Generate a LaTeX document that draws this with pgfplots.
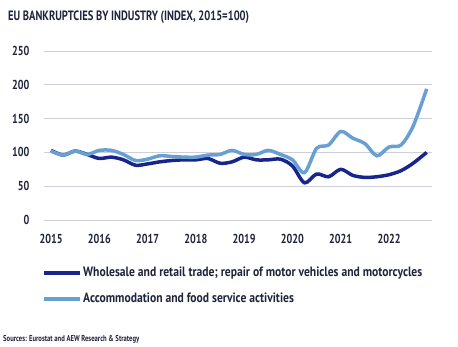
\documentclass[border=0pt]{standalone}
\usepackage{fontspec}
\setmainfont{PT Sans}[FakeStretch=0.78]
\newfontfamily\legfont{PT Sans}[FakeStretch=0.86]
\usepackage{pgfplots}
\pgfplotsset{compat=1.18}
\definecolor{darkb}{RGB}{24,38,140}
\definecolor{lightb}{RGB}{104,160,212}
\definecolor{gridc}{RGB}{205,208,218}
\definecolor{txt}{RGB}{30,36,60}
\begin{document}
\begin{tikzpicture}
\path[use as bounding box] (0pt,0pt) rectangle (458pt,346pt);
\node[anchor=base west,inner sep=0pt,font=\bfseries\fontsize{13.5}{15}\selectfont,text=txt] at (8pt,325pt) {EU BANKRUPTCIES BY INDUSTRY (INDEX, 2015=100)};
\node[anchor=base west,inner sep=0pt,font=\bfseries\fontsize{8.5}{10}\selectfont,text=txt] at (3pt,5pt) {Sources: Eurostat and AEW Research \& Strategy};
\begin{axis}[
  at={(44pt,126pt)}, anchor=south west,
  scale only axis, width=388pt, height=169pt,
  xmin=2014.855, xmax=2022.89, ymin=0, ymax=250,
  xtick={2015,2016,...,2022}, ytick={0,50,...,250},
  xticklabel style={/pgf/number format/1000 sep={}, font=\bfseries\fontsize{13}{15}\selectfont, text=txt, yshift=-11pt},
  yticklabel style={font=\bfseries\fontsize{13}{15}\selectfont, text=txt, xshift=-11pt},
  /pgf/number format/assume math mode=true,
  axis line style={draw=none}, major tick length=0pt,
  ymajorgrids, grid style={gridc, line width=0.8pt},
  legend cell align=left,
  legend style={at={(rel axis cs:0,0)}, anchor=north west, yshift=-45pt, xshift=-2pt,
    draw=none, fill=none, inner sep=0pt, row sep=11pt,
    font=\legfont\bfseries\fontsize{13.5}{15}\selectfont, text=txt,
    nodes={inner xsep=1pt},
    /tikz/every even column/.append style={column sep=0pt}},
  legend image code/.code={\draw[#1, line width=4pt] (0pt,0pt) -- (36pt,0pt);},
]
\addplot[darkb, line width=3.5pt, smooth, tension=0.5] coordinates {
(2015.00,103) (2015.25,96) (2015.50,102) (2015.75,97) (2016.00,91) (2016.25,93) (2016.50,89)
(2016.75,81) (2017.00,83) (2017.25,86) (2017.50,88) (2017.75,89) (2018.00,89) (2018.25,91)
(2018.50,84) (2018.75,86) (2019.00,93) (2019.25,89) (2019.50,89) (2019.75,90) (2020.00,80)
(2020.25,55) (2020.50,68) (2020.75,64) (2021.00,75) (2021.25,66) (2021.50,63) (2021.75,64)
(2022.00,67) (2022.25,73) (2022.50,84) (2022.78,100)
};
\addlegendentry{Wholesale and retail trade; repair of motor vehicles and motorcycles}
\addplot[lightb, line width=3.5pt, smooth, tension=0.5] coordinates {
(2015.00,102) (2015.25,96) (2015.50,102) (2015.75,97) (2016.00,103) (2016.25,103) (2016.50,97)
(2016.75,88) (2017.00,90) (2017.25,95) (2017.50,94) (2017.75,93) (2018.00,93) (2018.25,96)
(2018.50,97) (2018.75,103) (2019.00,97) (2019.25,97) (2019.50,103) (2019.75,97) (2020.00,89)
(2020.25,70) (2020.50,106) (2020.75,111) (2021.00,131) (2021.25,121) (2021.50,113) (2021.75,95)
(2022.00,108) (2022.25,111) (2022.50,139) (2022.78,194)
};
\addlegendentry{Accommodation and food service activities}
\end{axis}
\end{tikzpicture}
\end{document}
